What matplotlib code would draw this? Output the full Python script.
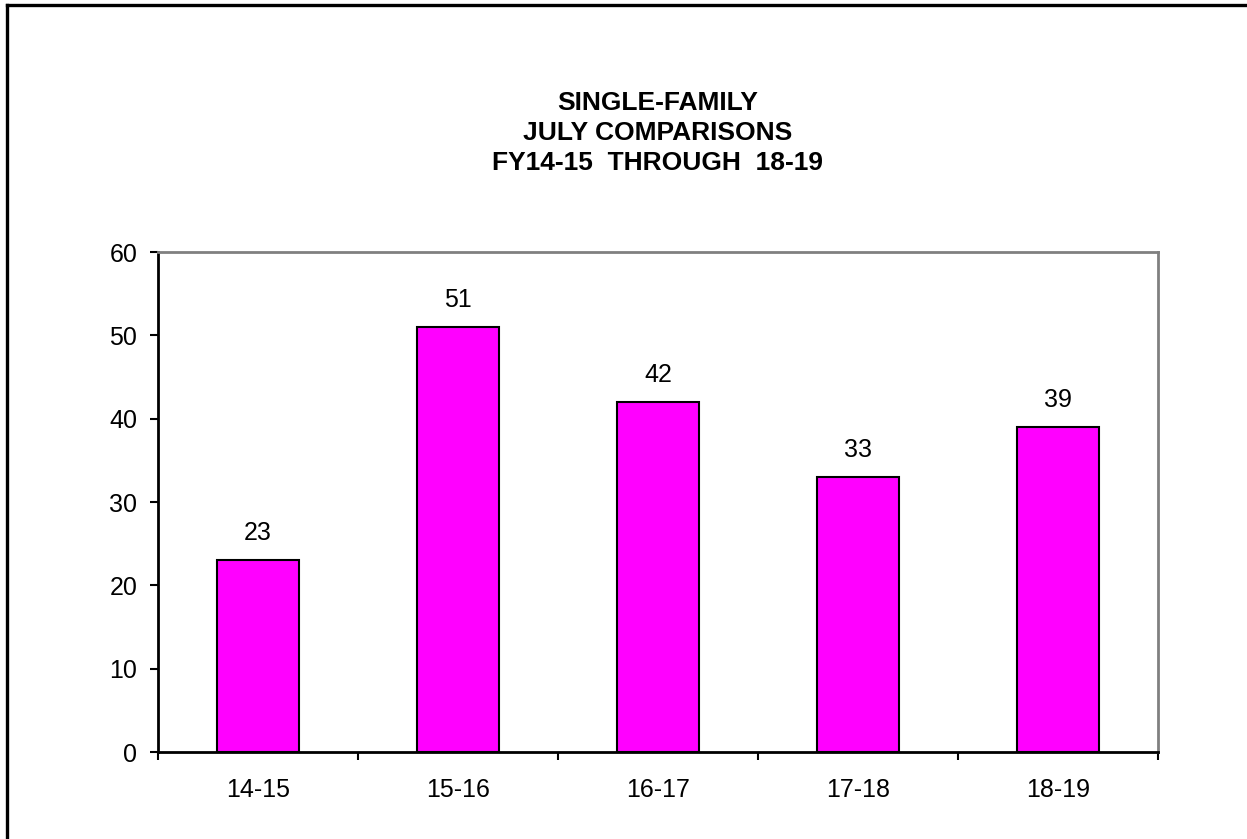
import numpy as np
import matplotlib.pyplot as plt
from matplotlib.lines import Line2D

plt.rcParams['font.family'] = ['Liberation Sans', 'DejaVu Sans']

years = ['14-15', '15-16', '16-17', '17-18', '18-19']
counts = [23, 51, 42, 33, 39]
title = 'SINGLE-FAMILY\nJULY COMPARISONS\nFY14-15  THROUGH  18-19'

fig = plt.figure(figsize=(12.47, 8.39), dpi=100)
# frame round the chart: only the top and left edges fall inside the picture
bx, by = 6.5 / 1247, 1 - 4.5 / 839
fig.add_artist(Line2D([bx, 1.01], [by, by], transform=fig.transFigure, color='black', linewidth=2.4))
fig.add_artist(Line2D([bx, bx], [by, -0.01], transform=fig.transFigure, color='black', linewidth=2.4))

ax = fig.add_axes([158/1247, 87/839, 1000/1247, 500/839])

x = np.arange(len(years))
ax.bar(x, counts, width=0.41, color='#ff00ff', edgecolor='black', linewidth=1.5)
for xi, v in zip(x, counts):
    ax.annotate(str(v), (xi, v), xytext=(0, 11), textcoords='offset points',
                ha='center', va='bottom', fontsize=18)

ax.set_xlim(-0.5, len(years) - 0.5)
ax.set_ylim(0, 60)
ax.set_yticks(range(0, 61, 10))
ax.set_xticks(x)
ax.set_xticklabels(years)
ax.set_xticks(np.arange(-0.5, len(years)), minor=True)
ax.tick_params(axis='x', which='major', length=0, pad=19, labelsize=18)
ax.tick_params(axis='x', which='minor', length=6, width=1.5, direction='out', color='black')
ax.tick_params(axis='y', length=6, width=1.5, direction='out', pad=9, labelsize=18)

for side in ['left', 'bottom']:
    ax.spines[side].set_color('black')
    ax.spines[side].set_linewidth(2)
for side in ['top', 'right']:
    ax.spines[side].set_color('#808080')
    ax.spines[side].set_linewidth(2)

fig.text(658/1247, 1 - 133/839, title, ha='center', va='center', fontsize=19,
         fontweight='bold', linespacing=1.33)

fig.savefig('out.png', dpi=100)
